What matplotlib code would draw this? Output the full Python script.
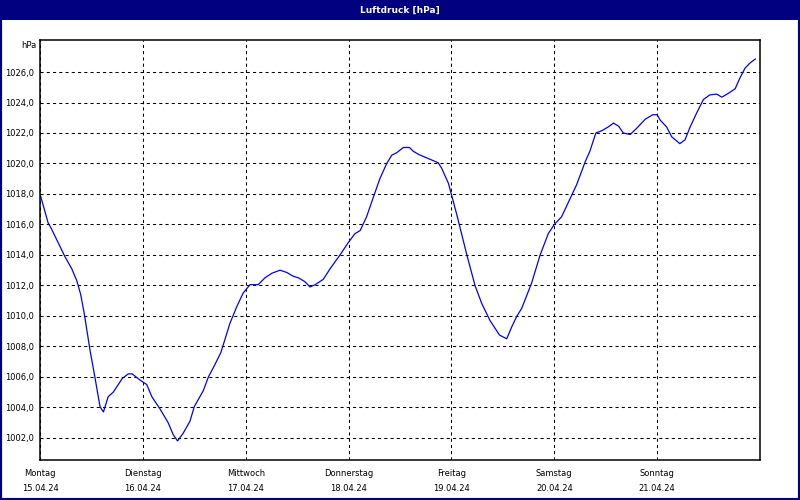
import numpy as np
import matplotlib.pyplot as plt
from matplotlib.patches import Rectangle

# Luftdruck-Verlauf, Stunden ab Montag 00:00
stunden = [0.0, 1.9, 2.7, 5.8, 7.4, 8.6, 9.5, 10.3, 11.7, 12.8, 14.0, 14.8, 15.9, 17.1,
           19.2, 20.6, 21.5, 23.3, 24.9, 26.1, 28.0, 29.9, 31.1, 32.1, 33.4, 35.0, 36.0,
           38.1, 39.3, 40.8, 42.2, 43.2, 44.3, 45.9, 47.4, 49.0, 50.9, 52.5, 54.1, 56.0,
           57.6, 59.1, 60.3, 61.8, 63.0, 64.2, 66.1, 67.7, 70.0, 71.9, 73.5, 74.7, 76.2,
           77.8, 79.3, 80.9, 82.1, 83.2, 84.8, 86.2, 87.1, 88.3, 90.8, 92.9, 93.7, 95.3,
           97.2, 99.6, 101.5, 103.1, 105.0, 107.2, 108.9, 110.1, 111.2, 112.4, 114.7,
           116.7, 118.6, 120.0, 121.7, 125.2, 127.2, 128.3, 129.7, 131.1, 132.6, 133.8,
           135.0, 136.1, 137.7, 139.2, 141.2, 143.0, 144.0, 144.7, 146.2, 147.4, 149.3,
           150.5, 151.7, 153.2, 154.8, 156.3, 157.9, 159.1, 160.6, 162.2, 163.3, 164.5,
           165.7, 166.9]
druck = [1018.0, 1016.1, 1015.7, 1013.9, 1013.1, 1012.3, 1011.4, 1010.2, 1007.7, 1006.0,
         1004.05, 1003.7, 1004.7, 1005.0, 1005.9, 1006.2, 1006.2, 1005.8, 1005.5, 1004.7,
         1003.9, 1003.0, 1002.2, 1001.8, 1002.3, 1003.1, 1004.05, 1005.1, 1006.0, 1006.8,
         1007.6, 1008.5, 1009.5, 1010.6, 1011.5, 1012.05, 1012.05, 1012.5, 1012.8, 1013.0,
         1012.85, 1012.6, 1012.5, 1012.25, 1011.9, 1012.05, 1012.4, 1013.1, 1014.0, 1014.8,
         1015.4, 1015.6, 1016.5, 1017.8, 1019.0, 1020.0, 1020.55, 1020.7, 1021.05, 1021.05,
         1020.8, 1020.6, 1020.3, 1020.05, 1019.7, 1018.7, 1016.7, 1014.0, 1012.0, 1010.8,
         1009.7, 1008.75, 1008.5, 1009.3, 1009.95, 1010.5, 1012.15, 1014.0, 1015.4, 1016.0,
         1016.5, 1018.6, 1020.1, 1020.8, 1022.0, 1022.15, 1022.4, 1022.65, 1022.45, 1022.0,
         1021.9, 1022.3, 1022.9, 1023.2, 1023.2, 1022.85, 1022.4, 1021.75, 1021.3, 1021.55,
         1022.4, 1023.3, 1024.2, 1024.5, 1024.55, 1024.35, 1024.6, 1024.9, 1025.6, 1026.25,
         1026.6, 1026.85]

tage = ['Montag', 'Dienstag', 'Mittwoch', 'Donnerstag', 'Freitag', 'Samstag', 'Sonntag']
datum = ['15.04.24', '16.04.24', '17.04.24', '18.04.24', '19.04.24', '20.04.24', '21.04.24']
ywerte = [1002, 1004, 1006, 1008, 1010, 1012, 1014, 1016, 1018, 1020, 1022, 1024, 1026]

navy = '#000080'
fs = 6

fig = plt.figure(figsize=(8, 5), dpi=100)
fig.patch.set_facecolor('white')
# Rahmen und Titelleiste
fig.add_artist(Rectangle((0, 0), 1, 1, transform=fig.transFigure, fill=False,
                         edgecolor=navy, linewidth=3))
fig.add_artist(Rectangle((0, 1 - 20 / 500), 1, 20 / 500, transform=fig.transFigure,
                         facecolor=navy, edgecolor='none'))
fig.text(0.5, 1 - 10 / 500, 'Luftdruck [hPa]', color='white', fontsize=6.5,
         fontweight='bold', ha='center', va='center')

ax = fig.add_axes([40 / 800, 1 - 460 / 500, 720 / 800, 420 / 500])
ax.plot(stunden, druck, color='#0000ff', linewidth=0.9)

ax.set_xlim(0, 168)
ax.set_ylim(1000.55, 1028.1)
ax.set_xticks([i * 24 for i in range(7)])
ax.set_xticklabels([t + '\n' + d for t, d in zip(tage, datum)], fontsize=fs, linespacing=1.85)
ax.set_yticks(ywerte)
ax.set_yticklabels([('%.1f' % v).replace('.', ',') for v in ywerte], fontsize=fs)
ax.tick_params(length=0, pad=4)
ax.tick_params(axis='x', pad=6.5)
ax.grid(True, color='black', linewidth=0.75, linestyle=(0, (3, 3)))
for s in ax.spines.values():
    s.set_linewidth(1.1)
ax.text(-4 / 720, 1 - 5 / 420, 'hPa', transform=ax.transAxes, fontsize=fs,
        ha='right', va='center')

fig.savefig('out.png', dpi=100)
